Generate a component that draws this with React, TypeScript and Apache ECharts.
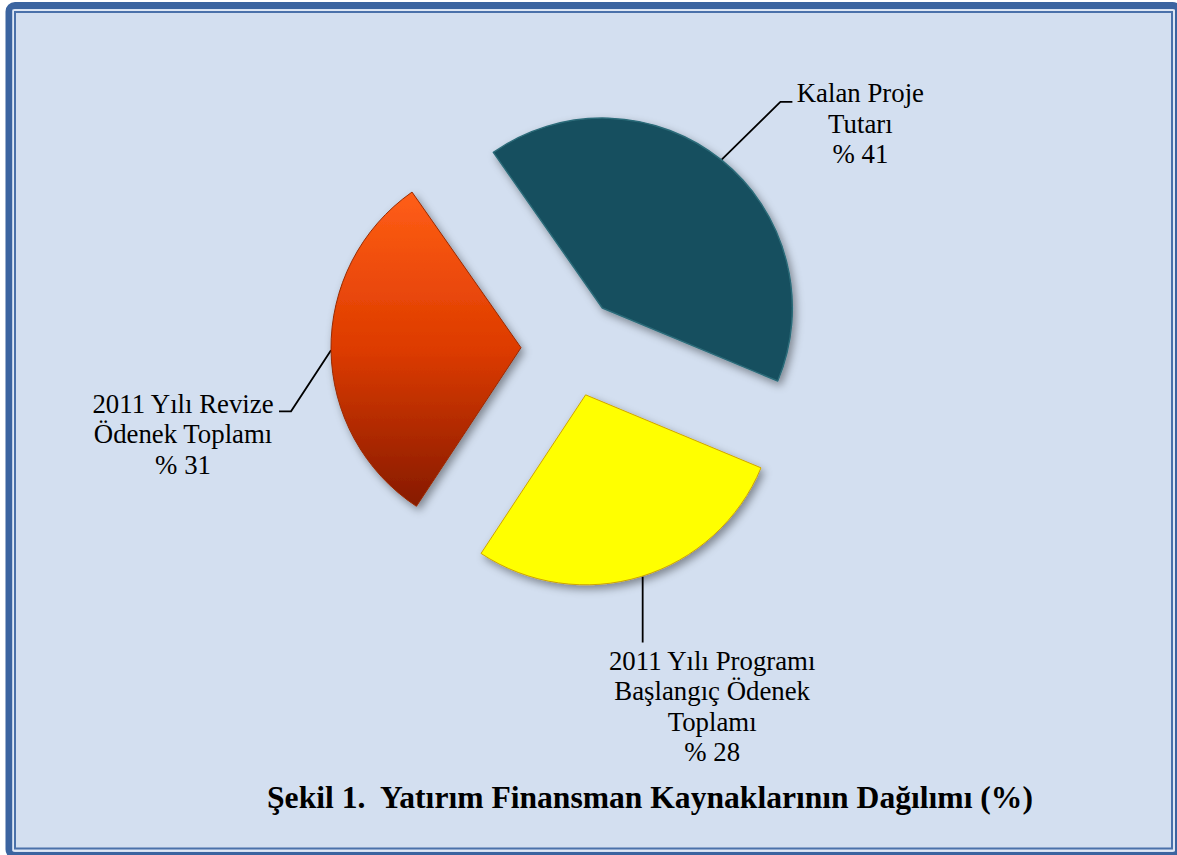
import React, { useEffect, useRef } from 'react';
import * as echarts from 'echarts';

// ---- data ----
const categories = [
  'Kalan Proje\nTutarı',
  '2011 Yılı Programı\nBaşlangıç Ödenek\nToplamı',
  '2011 Yılı Revize\nÖdenek Toplamı',
];
const values = [41, 28, 31];
const titleText = 'Şekil 1.  Yatırım Finansman Kaynaklarının Dağılımı (%)';

// ---- layout / style ----
const FONT = "'Times New Roman', 'Liberation Serif', serif";
const PIE = { cx: 571, cy: 347, r: 190, startAngle: 125, explode: 50 };
const LABEL_LAYOUT = [
  { start: [0, 0], line: [[59, -58], [71, -58]], center: [139, -36] },
  { start: [1.5, 0], line: [[1.5, 66]], center: [71, 130] },
  { start: [0, 0], line: [[-40, 61], [-52, 61]], center: [-148, 84] },
];

const sliceStyles = (): any[] => [
  { color: '#174f5e', borderColor: '#2c6b79', borderWidth: 1.5 },
  { color: '#ffff00', borderColor: '#cfa400', borderWidth: 1 },
  {
    color: new echarts.graphic.LinearGradient(0, 0, 0, 1, [
      { offset: 0, color: '#ff5e16' },
      { offset: 0.5, color: '#dd3b00' },
      { offset: 1, color: '#861a00' },
    ]),
    borderColor: '#9a2a00',
    borderWidth: 1,
  },
];

export default function App() {
  const ref = useRef<HTMLDivElement>(null);

  useEffect(() => {
    if (!ref.current) return;
    const chart = echarts.init(ref.current, undefined, { renderer: 'svg' });
    const total = values.reduce((a, b) => a + b, 0);
    let cum = 0;
    const mids = values.map((v) => {
      const m = PIE.startAngle - ((cum + v / 2) / total) * 360;
      cum += v;
      return m;
    });
    const styles = sliceStyles();

    const series = values.map((_, i) => {
      const rad = (mids[i] * Math.PI) / 180;
      const cx = PIE.cx + PIE.explode * Math.cos(rad);
      const cy = PIE.cy - PIE.explode * Math.sin(rad);
      const ex = cx + PIE.r * Math.cos(rad);
      const ey = cy - PIE.r * Math.sin(rad);
      const lay = LABEL_LAYOUT[i];
      return {
        type: 'pie',
        name: categories[i],
        center: [cx, cy],
        radius: PIE.r,
        startAngle: PIE.startAngle,
        clockwise: true,
        avoidLabelOverlap: false,
        minShowLabelAngle: 0,
        silent: true,
        emphasis: { disabled: true },
        z: 3,
        data: values.map((v, j) =>
          j === i
            ? {
                value: v,
                name: categories[j],
                itemStyle: {
                  ...styles[j],
                  shadowBlur: 8,
                  shadowOffsetX: 3,
                  shadowOffsetY: 4,
                  shadowColor: 'rgba(0,0,0,0.4)',
                },
                label: {
                  show: true,
                  position: 'outside',
                  formatter: '{b}\n% {c}',
                  fontFamily: FONT,
                  fontSize: 26.8,
                  lineHeight: 30.5,
                  color: '#000',
                },
                labelLine: {
                  show: true,
                  lineStyle: { color: '#000', width: 1.8 },
                },
              }
            : {
                value: v,
                name: categories[j],
                itemStyle: { color: 'rgba(0,0,0,0)', borderWidth: 0 },
                label: { show: false },
                labelLine: { show: false },
              }
        ),
        labelLayout: (params: any) => {
          if (params.dataIndex !== i) return {};
          return {
            x: ex + lay.center[0],
            y: ey + lay.center[1],
            align: 'center',
            verticalAlign: 'middle',
            labelLinePoints: [
              [ex + lay.start[0], ey + lay.start[1]],
              ...lay.line.map((p) => [ex + p[0], ey + p[1]]),
            ],
          };
        },
      };
    });

    chart.setOption({
      animation: false,
      backgroundColor: '#ffffff',
      graphic: [
        {
          type: 'rect',
          z: 0,
          shape: { x: 9, y: 5.5, width: 1169.5, height: 850, r: 6 },
          style: { fill: '#d3dff0', stroke: '#3b64a0', lineWidth: 7 },
          silent: true,
        },
        {
          type: 'rect',
          z: 1,
          shape: { x: 13.2, y: 10.2, width: 1160.8, height: 840.2 },
          style: { fill: 'none', stroke: '#dfe8f5', lineWidth: 1.6 },
          silent: true,
        },
        {
          type: 'rect',
          z: 1,
          shape: { x: 15, y: 12, width: 1157, height: 836.5 },
          style: { fill: 'none', stroke: '#4a71aa', lineWidth: 2 },
          silent: true,
        },
        {
          type: 'text',
          z: 5,
          x: 650,
          y: 797,
          style: {
            text: titleText,
            fill: '#000',
            font: `bold 31.6px ${FONT}`,
            align: 'center',
            verticalAlign: 'middle',
          },
          silent: true,
        },
      ],
      series,
    });
    return () => chart.dispose();
  }, []);

  return (
    <div
      ref={ref}
      style={{ position: 'absolute', left: 0, top: 0, width: 1177, height: 855 }}
    />
  );
}
